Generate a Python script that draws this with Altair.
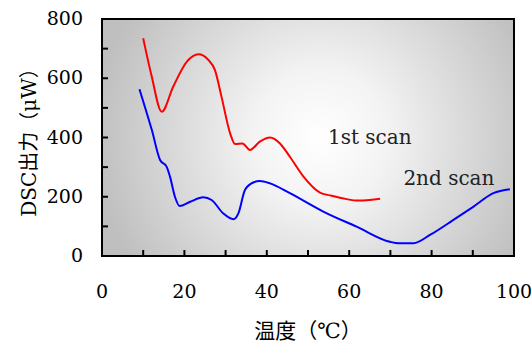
import altair as alt
import pandas as pd

# 1st scan (red)
red_x = [10.0, 12.0, 14.5, 17.3, 20.6, 23.4, 25.8, 27.4, 29.0, 31.1, 32.3, 34.1, 35.9,
         38.3, 40.8, 43.2, 45.6, 48.9, 52.9, 55.5, 59.4, 61.8, 65.0, 67.5]
red_y = [735, 610, 487, 572, 656, 681, 662, 628, 538, 414, 378, 380, 358,
         386, 400, 380, 335, 268, 214, 204, 192, 187, 189, 193]

# 2nd scan (blue)
blue_x = [9.1, 10.4, 12.1, 14.1, 15.7, 16.5, 17.7, 18.8, 21.4, 24.6, 26.6, 29.4, 31.9,
          33.1, 34.7, 36.7, 38.3, 40.8, 45.6, 53.7, 61.8, 69.9, 72.0, 75.6, 79.6,
          85.3, 90.1, 95.0, 99.0]
blue_y = [563, 504, 425, 324, 301, 268, 200, 169, 183, 198, 189, 144, 124,
          144, 223, 248, 253, 245, 212, 150, 99, 48, 43, 43, 71,
          122, 166, 212, 225]

x_ticks = [10, 20, 30, 40, 50, 60, 70, 80, 90]
y_ticks = [100, 200, 300, 400, 500, 600, 700]
x_labels = [0, 20, 40, 60, 80, 100]
y_labels = [0, 200, 400, 600, 800]

label_text = ["1st  scan", "2nd  scan"]
label_x = [65.0, 84.2]
label_y = [398, 260]

x_title = "温度（℃）"
y_title = "DSC出力（μW）"

W, H = 412, 237
SERIF = "DejaVu Serif, Noto Sans CJK JP, serif"

xs = alt.Scale(domain=[0, 100], nice=False, zero=False)
ys = alt.Scale(domain=[0, 800], nice=False, zero=False)

df_lines = pd.concat([
    pd.DataFrame({"t": red_x, "v": red_y, "s": "1st"}),
    pd.DataFrame({"t": blue_x, "v": blue_y, "s": "2nd"}),
])

bg = alt.Chart(pd.DataFrame({"a": [0]})).mark_rect(
    fill={
        "gradient": "radial",
        "x1": 0.53, "y1": 0.5, "r1": 0,
        "x2": 0.53, "y2": 0.5, "r2": 0.55,
        "stops": [
            {"offset": 0, "color": "#ffffff"},
            {"offset": 0.3, "color": "#f3f3f3"},
            {"offset": 1, "color": "#bfbfbf"},
        ],
    },
    stroke="black",
    strokeWidth=2,
).encode(x=alt.value(0), x2=alt.value(W), y=alt.value(0), y2=alt.value(H))

xt = alt.Chart(pd.DataFrame({"t": x_ticks})).mark_rule(color="black", strokeWidth=2).encode(
    x=alt.X("t:Q", scale=xs, axis=None), y=alt.value(H), y2=alt.value(H - 6)
)
yt = alt.Chart(pd.DataFrame({"v": y_ticks})).mark_rule(color="black", strokeWidth=2).encode(
    y=alt.Y("v:Q", scale=ys, axis=None), x=alt.value(0), x2=alt.value(6)
)

xl = alt.Chart(pd.DataFrame({"t": x_labels})).mark_text(
    font=SERIF, fontSize=19, color="black", align="center", baseline="middle"
).encode(x=alt.X("t:Q", scale=xs, axis=None), y=alt.value(H + 36), text="t:Q")
yl = alt.Chart(pd.DataFrame({"v": y_labels})).mark_text(
    font=SERIF, fontSize=19, color="black", align="right", baseline="middle"
).encode(y=alt.Y("v:Q", scale=ys, axis=None), x=alt.value(-19), text="v:Q")

xtitle = alt.Chart(pd.DataFrame({"s": [x_title]})).mark_text(
    font=SERIF, fontSize=21, color="black", align="center", baseline="middle"
).encode(x=alt.value(W / 2), y=alt.value(H + 76), text="s:N")
ytitle = alt.Chart(pd.DataFrame({"s": [y_title]})).mark_text(
    font=SERIF, fontSize=20, color="black", align="center", baseline="middle", angle=270
).encode(x=alt.value(-72), y=alt.value(H / 2), text="s:N")

lines = alt.Chart(df_lines).mark_line(strokeWidth=2, interpolate="monotone").encode(
    x=alt.X("t:Q", scale=xs, axis=None),
    y=alt.Y("v:Q", scale=ys, axis=None),
    color=alt.Color("s:N", scale=alt.Scale(domain=["1st", "2nd"], range=["#ff0000", "#0000ff"]),
                    legend=None),
    detail="s:N",
)

labels = alt.Chart(pd.DataFrame({"txt": label_text, "t": label_x, "v": label_y})).mark_text(
    font=SERIF, fontSize=20, color="#222222", align="center", baseline="middle"
).encode(x=alt.X("t:Q", scale=xs, axis=None), y=alt.Y("v:Q", scale=ys, axis=None),
         text="txt:N")

chart = alt.layer(bg, xt, yt, lines, labels, xl, yl, xtitle, ytitle).properties(
    width=W, height=H,
    autosize=alt.AutoSizeParams(type="none"),
    padding={"left": 102, "top": 19, "right": 18, "bottom": 88},
    background="white",
).configure_view(stroke=None)

chart.save("out.html", embed_options={"renderer": "svg", "actions": False})
